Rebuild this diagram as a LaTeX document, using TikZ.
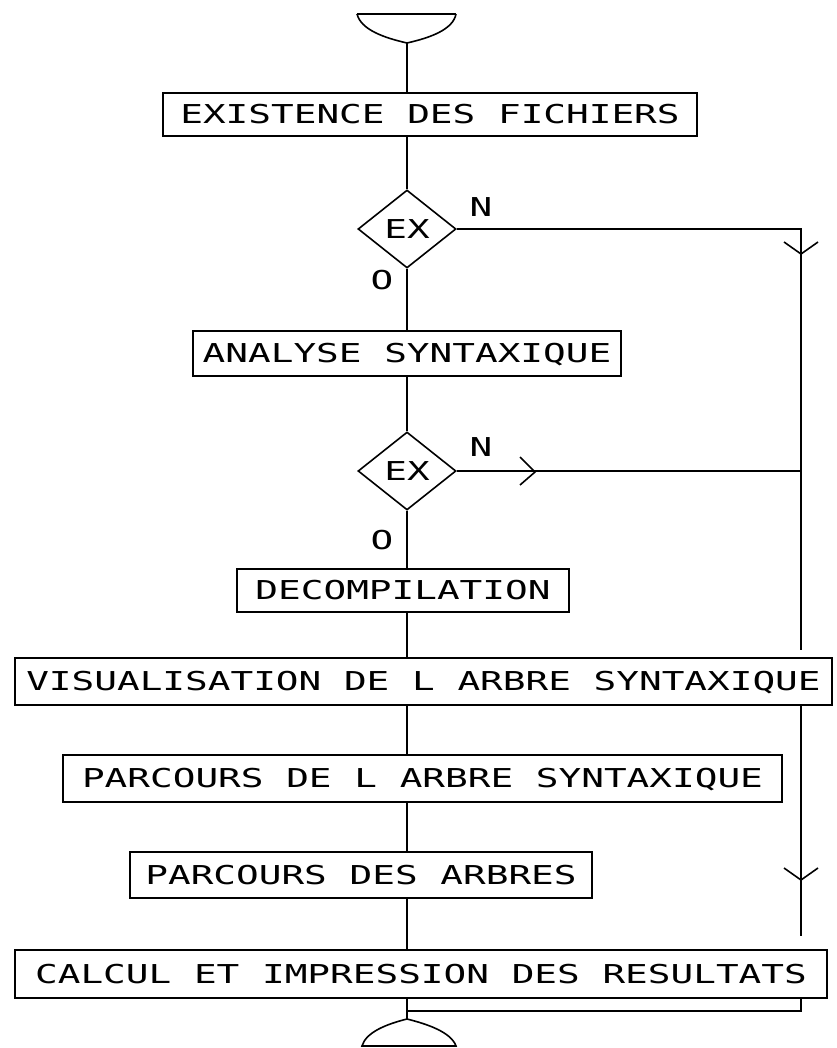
\documentclass[tikz,border=0pt]{standalone}
\usepackage{fontspec}
\usetikzlibrary{shapes.geometric}
\newfontfamily\dm[FakeStretch=1.45]{DejaVu Sans Mono}
\newdimen\pxu \pxu=0.75pt
\tikzset{
  dmfont/.style={font=\dm\fontsize{19.5pt}{20pt}\selectfont},
  boxn/.style={draw, inner sep=0pt, dmfont, text height=14.2pt, text depth=0pt},
  dia/.style={draw, diamond, inner sep=0pt, minimum width=98*\pxu, minimum height=78*\pxu, dmfont, text height=14.2pt, text depth=0pt},
  lbl/.style={dmfont, inner sep=0pt},
  vdown/.pic={\draw (-17,-12) -- (0,0) -- (17,-12);},
  vright/.pic={\draw (-15,-15) -- (0,0) -- (-15,13);}
}
\begin{document}
\begin{tikzpicture}[x=0.75pt,y=-0.75pt, line width=1.2pt]
\useasboundingbox (0,0) rectangle (837,1048);
% boxes
\node[boxn, minimum width=534*\pxu, minimum height=43*\pxu] (b1) at (430,114.5) {EXISTENCE DES FICHIERS};
\node[dia] (d1) at (407,229) {EX};
\node[boxn, minimum width=428*\pxu, minimum height=45*\pxu] (b2) at (407,353.5) {ANALYSE SYNTAXIQUE};
\node[dia] (d2) at (407,471) {EX};
\node[boxn, minimum width=332*\pxu, minimum height=43*\pxu] (b3) at (403,590.5) {DECOMPILATION};
\node[boxn, minimum width=817*\pxu, minimum height=47*\pxu] (b4) at (423.5,681.5) {VISUALISATION DE L ARBRE SYNTAXIQUE};
\node[boxn, minimum width=719*\pxu, minimum height=47*\pxu] (b5) at (422.5,778.5) {PARCOURS DE L ARBRE SYNTAXIQUE};
\node[boxn, minimum width=462*\pxu, minimum height=46*\pxu] (b6) at (361,875) {PARCOURS DES ARBRES};
\node[boxn, minimum width=812*\pxu, minimum height=48*\pxu] (b7) at (421,974) {CALCUL ET IMPRESSION DES RESULTATS};
% labels
\node[lbl] (n1) at (481,207) {N};
\node[lbl] (o1) at (382,280) {O};
\node[lbl] (n2) at (481,447) {N};
\node[lbl] (o2) at (382,540) {O};
% terminators
\coordinate (t1) at (407,43);
\coordinate (t2) at (407,1019);
\draw (357,14) -- (456,14);
\draw (357,14) .. controls (361,30) and (385,38) .. (t1) .. controls (429,38) and (453,30) .. (456,14);
\draw (362,1046) .. controls (366,1032) and (387,1024) .. (t2) .. controls (427,1024) and (451,1032) .. (456,1046) -- cycle;
% central connectors
\draw (t1) -- (t1 |- b1.north);
\draw (t1 |- b1.south) -- (d1.north);
\draw (d1.south) -- (b2.north);
\draw (b2.south) -- (d2.north);
\draw (d2.south) -- (d2.south |- b3.north);
\draw (d2.south |- b3.south) -- (d2.south |- b4.north);
\draw (d2.south |- b4.south) -- (d2.south |- b5.north);
\draw (d2.south |- b5.south) -- (d2.south |- b6.north);
\draw (d2.south |- b6.south) -- (d2.south |- b7.north);
\draw (t2 |- b7.south) -- (t2);
% right-hand bypass
\coordinate (r1) at (801,229);
\coordinate (r2) at (801,650);
\coordinate (r3) at (801,705);
\coordinate (r4) at (801,936);
\coordinate (r5) at (801,998);
\coordinate (r6) at (801,1011);
\coordinate (r7) at (407,1011);
\draw (d1.east) -- (r1) -- (r2);
\draw (r3) -- (r4);
\draw (r5) -- (r6) -- (r7);
\draw (d2.east) -- (d2.east -| r1);
% arrowheads
\pic at (801,254) {vdown};
\pic at (535,472) {vright};
\pic at (801,880) {vdown};
\end{tikzpicture}
\end{document}
